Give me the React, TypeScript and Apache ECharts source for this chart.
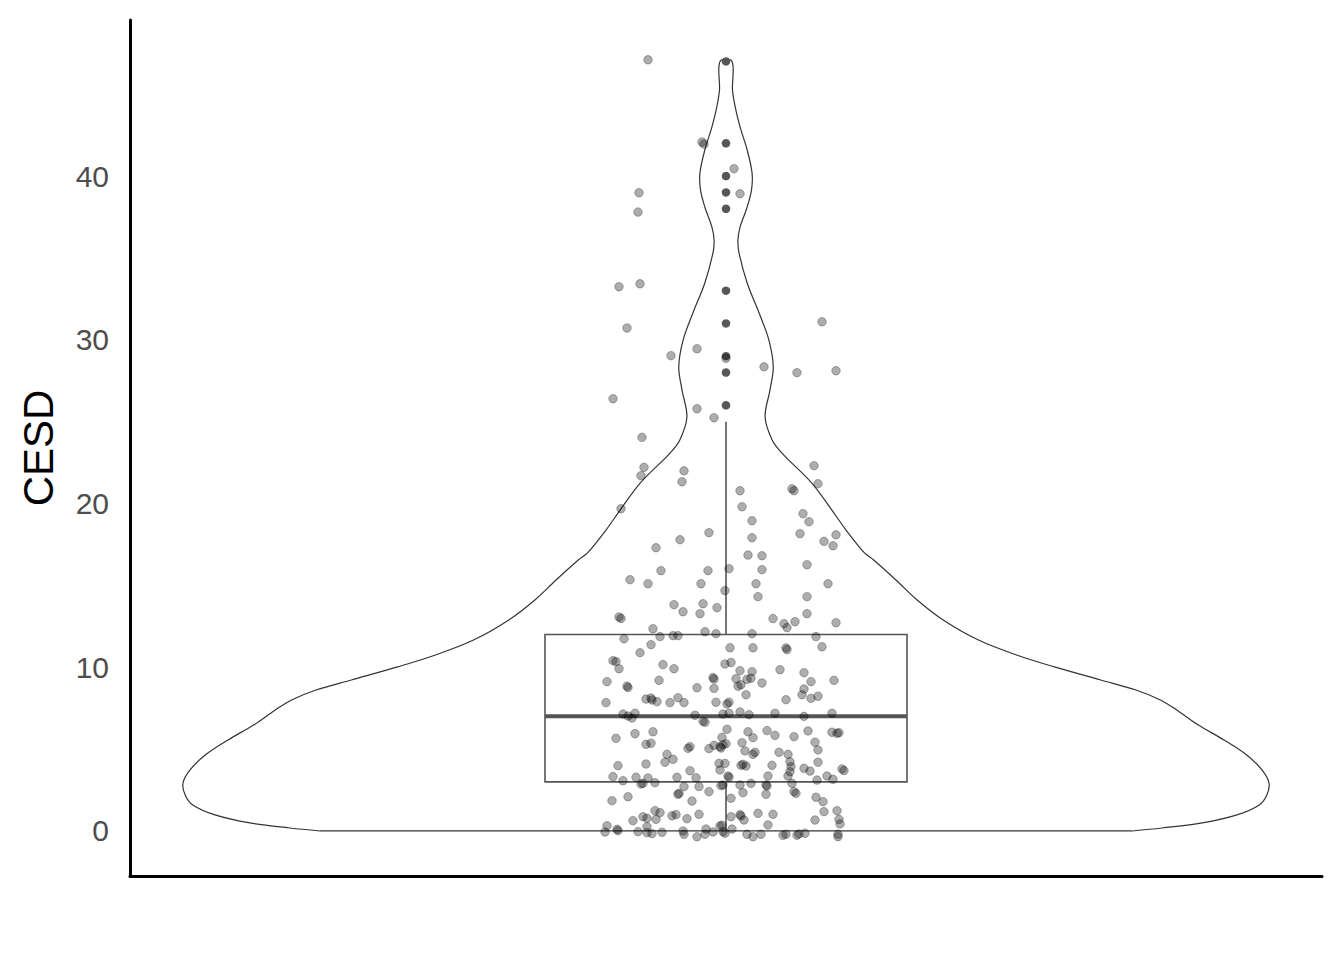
import React, { useEffect, useRef } from "react";
import * as echarts from "echarts";

// y-axis tick labels
const yTicks = [0, 10, 20, 30, 40];

// violin outline: CESD level and relative density (1 = widest)
const violinCesd = [0, 0.18, 0.49, 0.98, 1.59, 2.2, 2.93, 3.73, 4.64, 5.56, 6.47, 7.39, 8.0, 8.61, 9.22, 10.02, 10.75, 11.66, 12.89, 14.11, 15.33, 16.55, 16.98, 18.38, 19.6, 21.25, 23.08, 23.88, 25.28, 26.93, 28.34, 29.98, 31.63, 33.47, 35.3, 36.09, 36.89, 38.11, 39.15, 40.18, 41.59, 42.99, 44.21, 45.25, 47.0];
const violinDensity = [0.748, 0.803, 0.877, 0.941, 0.982, 0.996, 1.0, 0.987, 0.959, 0.917, 0.87, 0.83, 0.8, 0.755, 0.69, 0.605, 0.535, 0.465, 0.4, 0.352, 0.313, 0.272, 0.255, 0.221, 0.195, 0.158, 0.103, 0.085, 0.072, 0.081, 0.087, 0.079, 0.061, 0.039, 0.024, 0.022, 0.026, 0.039, 0.047, 0.048, 0.039, 0.026, 0.017, 0.012, 0.011];

// boxplot: lower whisker, Q1, median, Q3, upper whisker
const boxFive = [0, 3, 7, 12, 25];
const outlierCesd = [26, 28, 29, 31, 33, 38, 39, 40, 42, 47];

// jittered observations: [horizontal jitter offset, CESD]
const jitteredObs: [number, number][] = [
  [-0.78, 47.1], [-0.24, 42.08], [-0.22, 41.95], [0.08, 40.45], [0.14, 38.92], [-0.87, 38.98], [-0.88, 37.8],
  [-1.07, 33.24], [-0.86, 33.42], [-0.99, 30.72], [0.96, 31.1], [-0.55, 29.03], [-0.29, 29.45], [0.0, 28.87],
  [0.38, 28.35], [0.71, 27.99], [1.1, 28.11], [-1.13, 26.4], [-0.29, 25.79], [-0.12, 25.24], [-0.84, 24.04],
  [-0.82, 22.21], [-0.85, 21.7], [-0.42, 22.0], [-0.44, 21.33], [-1.05, 19.68], [0.88, 22.31], [0.92, 21.21],
  [0.66, 20.9], [0.68, 20.78], [0.14, 20.78], [0.16, 19.8], [0.26, 18.95], [0.77, 19.38], [0.83, 18.89],
  [1.1, 18.09], [0.74, 18.16], [0.98, 17.69], [1.07, 17.42], [-0.17, 18.22], [-0.46, 17.79], [-0.7, 17.3],
  [0.26, 17.91], [0.22, 16.85], [0.36, 16.81], [0.36, 15.96], [0.81, 16.26], [0.03, 16.02], [-0.18, 15.9],
  [-0.65, 15.9], [-0.96, 15.35], [-0.78, 15.1], [-0.25, 15.1], [0.3, 15.1], [1.02, 15.1], [-0.01, 14.68],
  [0.32, 14.31], [0.81, 14.31], [-0.52, 13.82], [-0.23, 13.88], [-0.43, 13.39], [-0.26, 13.27], [-0.09, 13.64],
  [-1.07, 13.07], [-1.05, 12.98], [0.47, 12.97], [0.58, 12.66], [0.61, 12.42], [0.69, 12.78], [0.81, 13.27],
  [1.1, 12.72], [-0.73, 12.35], [-1.02, 11.74], [-0.66, 11.87], [-0.53, 11.93], [-0.48, 11.93], [-0.21, 12.17],
  [-0.1, 12.05], [0.26, 12.05], [0.9, 11.87], [-0.75, 11.38], [-0.86, 10.89], [-1.13, 10.4], [-1.1, 10.35],
  [-1.07, 9.91], [-0.63, 10.16], [-0.52, 9.91], [-0.01, 10.2], [0.05, 10.29], [-1.19, 9.12], [-0.99, 8.85],
  [-0.98, 8.76], [-0.67, 9.2], [-0.29, 8.75], [-0.13, 9.37], [-0.12, 9.28], [-0.12, 8.71], [-1.2, 7.84],
  [-0.8, 8.06], [-0.75, 8.12], [-0.74, 8.0], [-0.69, 7.9], [-0.56, 7.84], [-0.48, 8.14], [-0.42, 7.84],
  [-0.1, 7.86], [0.04, 11.19], [0.27, 11.19], [0.6, 11.18], [0.61, 11.08], [0.96, 11.25], [0.14, 9.79],
  [0.26, 9.73], [0.54, 9.85], [0.78, 9.67], [0.1, 9.3], [0.21, 9.26], [0.25, 9.33], [0.36, 9.04], [0.85, 9.12],
  [1.08, 9.2], [0.12, 8.84], [0.15, 8.93], [0.2, 8.32], [0.78, 8.67], [0.76, 8.32], [0.85, 8.1], [0.92, 8.23],
  [0.6, 8.02], [0.03, 7.86], [-1.03, 7.14], [-0.98, 7.02], [-0.94, 6.9], [-0.91, 7.19], [-0.31, 7.07],
  [-0.23, 6.7], [-0.21, 6.64], [-0.03, 7.14], [-1.1, 5.66], [-0.91, 5.94], [-0.73, 6.06], [-0.8, 5.29],
  [-0.75, 5.36], [-0.59, 4.68], [-0.53, 4.38], [-0.61, 4.2], [-0.38, 5.05], [-0.36, 5.15], [-0.17, 5.03],
  [-0.12, 5.23], [-0.06, 5.15], [-0.04, 5.72], [-1.08, 3.99], [-0.8, 4.09], [-0.36, 3.68], [-0.07, 4.13],
  [-0.06, 3.73], [0.01, 7.76], [0.03, 7.19], [0.14, 7.27], [0.23, 7.1], [0.49, 7.19], [0.78, 7.0], [1.06, 7.19],
  [0.01, 6.21], [0.22, 6.06], [0.27, 5.7], [0.41, 6.13], [0.49, 5.84], [0.68, 5.76], [0.82, 6.11], [1.06, 6.03],
  [1.11, 5.97], [1.13, 6.0], [-0.03, 5.27], [0.0, 5.33], [-0.05, 5.07], [0.16, 5.39], [0.19, 4.89], [0.27, 4.68],
  [0.29, 4.81], [0.89, 5.42], [0.92, 4.95], [0.53, 4.81], [0.62, 4.68], [0.64, 4.23], [0.65, 3.93], [0.64, 3.62],
  [0.17, 4.07], [0.2, 3.97], [0.15, 4.01], [0.46, 4.01], [0.78, 3.83], [0.84, 3.66], [0.92, 4.2], [1.16, 3.79],
  [1.18, 3.69], [-0.01, 4.13], [-1.13, 3.32], [-1.03, 3.07], [-0.9, 3.28], [-0.85, 2.87], [-0.83, 2.91],
  [-0.78, 3.24], [-0.71, 2.95], [-0.49, 3.28], [-0.42, 2.71], [-0.3, 3.25], [-0.27, 2.71], [-0.47, 2.3],
  [-0.48, 2.24], [-1.14, 1.85], [-0.98, 2.09], [-0.34, 1.83], [-0.17, 2.4], [-0.05, 2.77], [-0.93, 0.63],
  [-0.83, 0.87], [-0.79, 0.78], [-0.7, 0.71], [-0.71, 1.24], [-0.66, 1.12], [-0.54, 0.93], [-0.5, 1.0],
  [-0.39, 0.75], [-0.27, 1.02], [-1.19, 0.32], [-1.21, -0.06], [-1.09, 0.1], [-1.08, 0.02], [-0.88, -0.04],
  [-0.79, 0.26], [-0.79, -0.1], [-0.74, -0.16], [-0.64, -0.08], [-0.43, 0.0], [-0.42, -0.2], [-0.29, -0.35],
  [-0.21, -0.2], [-0.2, 0.12], [-0.13, -0.06], [-0.06, 0.31], [-0.03, -0.04], [0.03, 3.28], [0.02, 3.36],
  [-0.03, 2.81], [0.14, 2.81], [0.25, 2.91], [0.42, 3.36], [0.4, 2.81], [0.41, 2.75], [0.4, 2.24], [0.62, 3.36],
  [0.66, 2.91], [0.68, 2.4], [0.7, 2.3], [0.91, 3.11], [1.01, 3.36], [1.07, 3.16], [0.17, 2.34], [0.05, 2.0],
  [0.9, 2.06], [0.97, 1.79], [0.98, 1.18], [1.11, 1.24], [1.13, 0.71], [1.14, 0.43], [0.89, 0.67], [0.32, 1.08],
  [0.47, 1.02], [0.42, 0.37], [0.05, 0.87], [0.14, 1.0], [0.15, 0.92], [0.18, 0.67], [-0.04, 0.35], [0.06, 0.12],
  [-0.01, -0.14], [0.21, -0.2], [0.27, -0.35], [0.35, -0.2], [0.57, -0.26], [0.6, -0.2], [0.71, -0.26],
  [0.73, -0.18], [0.79, -0.14], [1.12, -0.2], [1.12, -0.35],
];

const X_MIN = -5.96;
const X_MAX = 5.96;
const VIOLIN_HALF = 5.43;
const BOX_HALF = 1.81;
const FONT = "'Liberation Sans', Arial, sans-serif";

export default function App() {
  const ref = useRef<HTMLDivElement>(null);
  useEffect(() => {
    if (!ref.current) return;
    const chart = echarts.init(ref.current, null, { renderer: "svg" });
    const option: any = {
      animation: false,
      backgroundColor: "#ffffff",
      grid: { left: 130, right: 22, top: 20, bottom: 84 },
      xAxis: {
        type: "value",
        min: X_MIN,
        max: X_MAX,
        axisLine: { show: true, onZero: false, lineStyle: { color: "#000", width: 3 } },
        axisTick: { show: false },
        axisLabel: { show: false },
        splitLine: { show: false },
      },
      yAxis: {
        type: "value",
        min: -2.75,
        max: 49.53,
        name: "CESD",
        nameLocation: "middle",
        nameGap: 71,
        nameTextStyle: { color: "#000", fontSize: 42, fontFamily: FONT },
        axisLine: { show: true, onZero: false, lineStyle: { color: "#000", width: 3 } },
        axisTick: { show: false },
        axisLabel: {
          customValues: yTicks,
          color: "#4d4d4d",
          fontSize: 30,
          fontFamily: FONT,
          margin: 21,
        },
        splitLine: { show: false },
      },
      series: [
        {
          type: "custom",
          z: 1,
          silent: true,
          data: [[0, 0]],
          renderItem: (_p: any, api: any) => {
            const left = violinCesd.map((y, i) => api.coord([-violinDensity[i] * VIOLIN_HALF, y]));
            const right = violinCesd
              .map((y, i) => api.coord([violinDensity[i] * VIOLIN_HALF, y]))
              .reverse();
            const outline = left.concat(right);
            return {
              type: "group",
              children: [
                {
                  type: "polyline",
                  shape: { points: outline, smooth: 0.35 },
                  style: { fill: "none", stroke: "#333333", lineWidth: 1.2 },
                },
                {
                  type: "line",
                  shape: { x1: left[0][0], y1: left[0][1], x2: right[right.length - 1][0], y2: right[right.length - 1][1] },
                  style: { stroke: "#333333", lineWidth: 1.2 },
                },
              ],
            };
          },
        },
        {
          type: "custom",
          z: 2,
          silent: true,
          data: [[0, 0]],
          renderItem: (_p: any, api: any) => {
            const [lo, q1, med, q3, hi] = boxFive;
            const tl = api.coord([-BOX_HALF, q3]);
            const br = api.coord([BOX_HALF, q1]);
            const mL = api.coord([-BOX_HALF, med]);
            const mR = api.coord([BOX_HALF, med]);
            const wTop = api.coord([0, hi]);
            const wQ3 = api.coord([0, q3]);
            const wQ1 = api.coord([0, q1]);
            const wLo = api.coord([0, lo]);
            const ls = { stroke: "#555555", lineWidth: 1.6 };
            return {
              type: "group",
              children: [
                { type: "line", shape: { x1: wTop[0], y1: wTop[1], x2: wQ3[0], y2: wQ3[1] }, style: ls },
                { type: "line", shape: { x1: wQ1[0], y1: wQ1[1], x2: wLo[0], y2: wLo[1] }, style: ls },
                {
                  type: "rect",
                  shape: { x: tl[0], y: tl[1], width: br[0] - tl[0], height: br[1] - tl[1] },
                  style: { fill: "none", stroke: "#555555", lineWidth: 1.6 },
                },
                { type: "line", shape: { x1: mL[0], y1: mL[1], x2: mR[0], y2: mR[1] }, style: { stroke: "#555555", lineWidth: 4 } },
              ],
            };
          },
        },
        {
          type: "scatter",
          z: 3,
          silent: true,
          symbol: "circle",
          symbolSize: 8.5,
          data: outlierCesd.map((y) => [0, y]),
          itemStyle: { color: "#575757", opacity: 1 },
        },
        {
          type: "scatter",
          z: 4,
          silent: true,
          symbol: "circle",
          symbolSize: 8.5,
          data: jitteredObs,
          itemStyle: { color: "rgba(0,0,0,0.32)", borderColor: "rgba(0,0,0,0.28)", borderWidth: 1, opacity: 1 },
        },
      ],
    };
    chart.setOption(option);
    return () => chart.dispose();
  }, []);
  return <div ref={ref} style={{ position: "fixed", left: 0, top: 0, width: 1344, height: 960 }} />;
}
